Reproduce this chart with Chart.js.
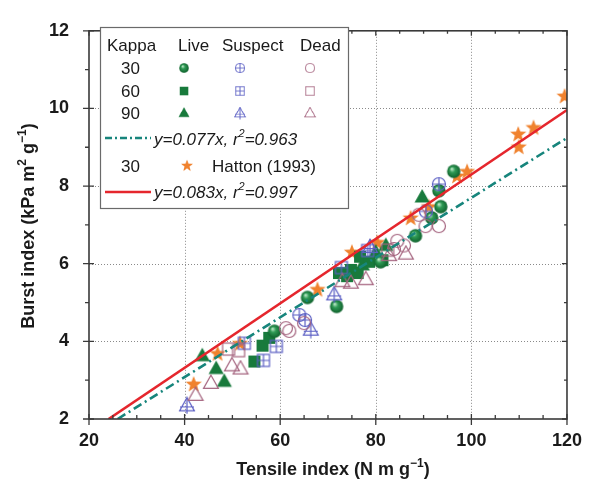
<!DOCTYPE html>
<html>
<head>
<meta charset="utf-8">
<script src="https://cdn.jsdelivr.net/npm/chart.js@4.4.1/dist/chart.umd.min.js"></script>
<style>
  html, body { margin: 0; padding: 0; background: #fff; }
  #wrap { width: 593px; height: 483px; position: relative; }
</style>
</head>
<body>
<div id="wrap"><canvas id="chart" width="593" height="483"></canvas></div>
<script>
// ---- data ----
const xTicks = [20, 40, 60, 80, 100, 120];
const yTicks = [2, 4, 6, 8, 10, 12];

const live30X = [58.8, 65.7, 71.8, 81.0, 88.3, 91.7, 93.6, 93.2, 96.3];
const live30Y = [4.26, 5.13, 4.90, 6.05, 6.72, 7.18, 7.47, 7.88, 8.38];
const live60X = [54.6, 56.3, 57.7, 72.3, 74.0, 74.8, 76.2, 76.7, 78.6, 81.4];
const live60Y = [3.48, 3.89, 4.09, 5.76, 5.68, 5.84, 5.76, 6.18, 6.05, 6.09];
const live90X = [43.7, 46.6, 48.3, 77.2, 80.0, 82.1, 89.7];
const live90Y = [3.63, 3.30, 2.97, 5.97, 6.30, 6.47, 7.72];

const sus30X = [64.0, 65.2, 90.5, 93.2];
const sus30Y = [4.68, 4.55, 7.35, 8.05];
const sus60X = [52.5, 56.5, 59.2, 72.8, 78.3];
const sus60Y = [3.95, 3.51, 3.87, 5.90, 6.34];
const sus90X = [40.5, 66.4, 71.3, 78.8];
const sus90Y = [2.35, 4.30, 5.21, 6.43];

const dead30X = [61.2, 61.9, 65.0, 83.8, 84.5, 85.9, 89.0, 90.4, 93.2];
const dead30Y = [4.34, 4.27, 4.47, 6.38, 6.59, 6.47, 7.26, 6.97, 6.97];
const dead60X = [49.2, 51.3, 82.5];
const dead60Y = [3.80, 3.76, 6.35];
const dead90X = [42.3, 45.5, 49.9, 51.7, 73.0, 74.8, 77.9, 82.8, 86.3];
const dead90Y = [2.62, 2.93, 3.38, 3.30, 5.55, 5.51, 5.60, 6.22, 6.26];

const hattonX = [41.9, 46.9, 51.6, 67.8, 75.0, 80.3, 87.3, 91.1, 97.0, 99.1, 109.8, 109.9, 113.0, 119.5];
const hattonY = [2.90, 3.69, 3.95, 5.34, 6.30, 6.55, 7.18, 7.47, 8.26, 8.38, 9.34, 9.01, 9.51, 10.32];

// regression lines (end points)
const fitOursX = [26.0, 120];
const fitOursY = [2.00, 9.24];
const fitAllX = [24.1, 120];
const fitAllY = [2.00, 9.96];

const GREEN = "#187a3c";
const BLUE = "#5b5fc4";
const MAUVE = "#a5647f";
const ORANGE = "#f0822e";
const RED = "#e5262d";
const TEAL = "#17857c";

/* ============================================================
 * marker images
 * ============================================================ */

function makeMarker(kind) {
  const s = 18;
  const c = document.createElement("canvas");
  c.width = s; c.height = s;
  const g = c.getContext("2d");
  const m = s / 2;
  g.lineWidth = 1.2;

  const tri = (r) => {
    g.beginPath();
    g.moveTo(m, m - r);
    g.lineTo(m + r * 0.95, m + r * 0.7);
    g.lineTo(m - r * 0.95, m + r * 0.7);
    g.closePath();
  };

  if (kind === "sphere") {
    const grad = g.createRadialGradient(m - 2, m - 2.5, 0.5, m, m, 7);
    grad.addColorStop(0, "#b8e6c4");
    grad.addColorStop(0.35, "#2f9a55");
    grad.addColorStop(1, "#0d5e2a");
    g.fillStyle = grad;
    g.beginPath(); g.arc(m, m, 6.7, 0, Math.PI * 2); g.fill();
  } else if (kind === "fsquare") {
    g.fillStyle = GREEN;
    g.fillRect(m - 6, m - 6, 12, 12);
  } else if (kind === "ftri") {
    g.fillStyle = GREEN; tri(8); g.fill();
  } else if (kind === "ocircle" || kind === "pcircle") {
    g.strokeStyle = kind === "ocircle" ? MAUVE : BLUE;
    g.beginPath(); g.arc(m, m, 6.5, 0, Math.PI * 2); g.stroke();
    if (kind === "pcircle") {
      g.beginPath();
      g.moveTo(m - 6.5, m); g.lineTo(m + 6.5, m);
      g.moveTo(m, m - 6.5); g.lineTo(m, m + 6.5);
      g.stroke();
    }
  } else if (kind === "osquare" || kind === "psquare") {
    g.strokeStyle = kind === "osquare" ? MAUVE : BLUE;
    g.strokeRect(m - 6, m - 6, 12, 12);
    if (kind === "psquare") {
      g.beginPath();
      g.moveTo(m - 6, m); g.lineTo(m + 6, m);
      g.moveTo(m, m - 6); g.lineTo(m, m + 6);
      g.stroke();
    }
  } else if (kind === "otri" || kind === "ptri") {
    g.strokeStyle = kind === "otri" ? MAUVE : BLUE;
    tri(7.8); g.stroke();
    if (kind === "ptri") {
      g.beginPath();
      g.moveTo(m, m - 7.8); g.lineTo(m, m + 8.5);
      g.moveTo(m - 7, m + 1.5); g.lineTo(m + 7, m + 1.5);
      g.stroke();
    }
  } else if (kind === "star") {
    g.fillStyle = ORANGE;
    g.beginPath();
    for (let i = 0; i < 10; i++) {
      const r = i % 2 === 0 ? 8.5 : 3.6;
      const a = -Math.PI / 2 + i * Math.PI / 5;
      const px = m + r * Math.cos(a), py = m + 0.5 + r * Math.sin(a);
      if (i === 0) g.moveTo(px, py); else g.lineTo(px, py);
    }
    g.closePath(); g.fill();
  }
  return c;
}

const MK = {};
["sphere", "fsquare", "ftri", "ocircle", "osquare", "otri", "pcircle", "psquare", "ptri", "star"]
  .forEach((k) => (MK[k] = makeMarker(k)));

const pts = (xs, ys) => xs.map((x, i) => ({ x, y: ys[i] }));

function scatterSet(xs, ys, kind) {
  return {
    type: "scatter",
    data: pts(xs, ys),
    pointStyle: MK[kind],
    pointRadius: 8,
    order: 2,
  };
}

/* ============================================================
 * helpers for text with superscripts
 * ============================================================ */

function runsWidth(ctx, runs, font, supFont) {
  let w = 0;
  runs.forEach((r) => {
    ctx.font = r.sup ? supFont : font;
    w += ctx.measureText(r.t).width;
  });
  return w;
}

function drawRuns(ctx, runs, x, y, font, supFont, supRise) {
  let cx = x;
  ctx.textAlign = "left";
  ctx.textBaseline = "alphabetic";
  runs.forEach((r) => {
    ctx.font = r.sup ? supFont : font;
    ctx.fillText(r.t, cx, r.sup ? y - supRise : y);
    cx += ctx.measureText(r.t).width;
  });
}

/* ============================================================
 * frame, grid, ticks, titles, legend
 * ============================================================ */

const framePlugin = {
  id: "frame",
  beforeDatasetsDraw(chart) {
    const { ctx, chartArea: a, scales } = chart;
    ctx.save();
    ctx.strokeStyle = "#8a8a8a";
    ctx.lineWidth = 1;
    ctx.setLineDash([1, 2]);
    xTicks.slice(1, -1).forEach((v) => {
      const px = Math.round(scales.x.getPixelForValue(v)) + 0.5;
      ctx.beginPath(); ctx.moveTo(px, a.top); ctx.lineTo(px, a.bottom); ctx.stroke();
    });
    yTicks.slice(1, -1).forEach((v) => {
      const py = Math.round(scales.y.getPixelForValue(v)) + 0.5;
      ctx.beginPath(); ctx.moveTo(a.left, py); ctx.lineTo(a.right, py); ctx.stroke();
    });
    ctx.restore();
  },
  afterDatasetsDraw(chart) {
    const { ctx, chartArea: a, scales } = chart;
    ctx.save();
    ctx.strokeStyle = "#3a3a3a";
    ctx.lineWidth = 1.6;
    ctx.strokeRect(a.left, a.top, a.right - a.left, a.bottom - a.top);

    ctx.lineWidth = 1.3;
    ctx.beginPath();
    for (let v = 20; v <= 120; v += 5) {
      const px = scales.x.getPixelForValue(v);
      const major = v % 20 === 0;
      if (major) {
        ctx.moveTo(px, a.bottom + 6); ctx.lineTo(px, a.bottom - 5);
        ctx.moveTo(px, a.top); ctx.lineTo(px, a.top + 5);
      } else {
        ctx.moveTo(px, a.bottom); ctx.lineTo(px, a.bottom - 4);
        ctx.moveTo(px, a.top); ctx.lineTo(px, a.top + 3);
      }
    }
    for (let v = 2; v <= 12; v += 1) {
      const py = scales.y.getPixelForValue(v);
      const major = v % 2 === 0;
      if (major) {
        ctx.moveTo(a.left - 6, py); ctx.lineTo(a.left + 5, py);
        ctx.moveTo(a.right, py); ctx.lineTo(a.right - 5, py);
      } else {
        ctx.moveTo(a.left - 4, py); ctx.lineTo(a.left, py);
        ctx.moveTo(a.right, py); ctx.lineTo(a.right - 3, py);
      }
    }
    ctx.stroke();
    ctx.restore();

    drawLegend(ctx);
  },
  afterDraw(chart) {
    const { ctx } = chart;
    const font = "bold 18px Arial, 'Liberation Sans', sans-serif";
    const supFont = "bold 12px Arial, 'Liberation Sans', sans-serif";
    ctx.save();
    ctx.fillStyle = "#1a1a1a";

    // x title
    const xr = [{ t: "Tensile index (N m g" }, { t: "\u22121", sup: true }, { t: ")" }];
    const xw = runsWidth(ctx, xr, font, supFont);
    drawRuns(ctx, xr, 333 - xw / 2, 475, font, supFont, 8);

    // y title (rotated)
    const yr = [
      { t: "Burst index (kPa m" }, { t: "2", sup: true }, { t: " g" },
      { t: "\u22121", sup: true }, { t: ")" },
    ];
    const yw = runsWidth(ctx, yr, font, supFont);
    ctx.translate(34, 226);
    ctx.rotate(-Math.PI / 2);
    drawRuns(ctx, yr, -yw / 2, 0, font, supFont, 8);
    ctx.restore();
  },
};

function drawLegend(ctx) {
  const x0 = 100, y0 = 27, x1 = 348, y1 = 208;
  ctx.save();
  ctx.fillStyle = "#fff";
  ctx.fillRect(x0, y0, x1 - x0, y1 - y0);
  ctx.strokeStyle = "#6a6a6a";
  ctx.lineWidth = 1.2;
  ctx.strokeRect(x0 + 0.5, y0 + 0.5, x1 - x0, y1 - y0);

  const font = "17px Arial, 'Liberation Sans', sans-serif";
  const ifont = "italic 17px Arial, 'Liberation Sans', sans-serif";
  const isup = "italic 11px Arial, 'Liberation Sans', sans-serif";
  ctx.fillStyle = "#1a1a1a";
  ctx.font = font;
  ctx.textBaseline = "alphabetic";
  ctx.textAlign = "left";
  ctx.fillText("Kappa", 107, 51);
  ctx.fillText("Live", 178, 51);
  ctx.fillText("Suspect", 222, 51);
  ctx.fillText("Dead", 300, 51);

  const rows = [
    { k: "30", y: 74, m: ["sphere", "pcircle", "ocircle"] },
    { k: "60", y: 97, m: ["fsquare", "psquare", "osquare"] },
    { k: "90", y: 119, m: ["ftri", "ptri", "otri"] },
  ];
  const cols = [184, 240, 310];
  const sz = 13;
  rows.forEach((r) => {
    ctx.font = font;
    ctx.fillText(r.k, 121, r.y);
    r.m.forEach((k, i) => {
      ctx.drawImage(MK[k], cols[i] - sz / 2, r.y - 6 - sz / 2, sz, sz);
    });
  });

  // teal fit
  ctx.strokeStyle = TEAL;
  ctx.lineWidth = 2.4;
  ctx.setLineDash([7, 3, 2, 3]);
  ctx.beginPath(); ctx.moveTo(105, 138); ctx.lineTo(151, 138); ctx.stroke();
  ctx.setLineDash([]);
  drawRuns(ctx, [{ t: "y=0.077x, r" }, { t: "2", sup: true }, { t: "=0.963" }], 154, 145, ifont, isup, 8);

  // Hatton
  ctx.font = font;
  ctx.fillText("30", 121, 172);
  ctx.drawImage(MK.star, 187 - 6.5, 166 - 7, 13, 13);
  ctx.fillText("Hatton (1993)", 212, 172);

  // red fit
  ctx.strokeStyle = RED;
  ctx.lineWidth = 2.4;
  ctx.beginPath(); ctx.moveTo(105, 192); ctx.lineTo(151, 192); ctx.stroke();
  drawRuns(ctx, [{ t: "y=0.083x, r" }, { t: "2", sup: true }, { t: "=0.997" }], 154, 198, ifont, isup, 8);
  ctx.restore();
}

/* ============================================================
 * chart
 * ============================================================ */

const tickFont = { family: "Arial, 'Liberation Sans', sans-serif", size: 18, weight: "bold" };

new Chart(document.getElementById("chart"), {
  type: "scatter",
  data: {
    datasets: [
      scatterSet(dead30X, dead30Y, "ocircle"),
      scatterSet(dead60X, dead60Y, "osquare"),
      scatterSet(dead90X, dead90Y, "otri"),
      scatterSet(sus30X, sus30Y, "pcircle"),
      scatterSet(sus60X, sus60Y, "psquare"),
      scatterSet(sus90X, sus90Y, "ptri"),
      scatterSet(live30X, live30Y, "sphere"),
      scatterSet(live60X, live60Y, "fsquare"),
      scatterSet(live90X, live90Y, "ftri"),
      scatterSet(hattonX, hattonY, "star"),
      {
        type: "line",
        data: pts(fitOursX, fitOursY),
        borderColor: TEAL,
        borderWidth: 2.6,
        borderDash: [9, 4, 2, 4],
        pointRadius: 0,
        fill: false,
        order: 1,
      },
      {
        type: "line",
        data: pts(fitAllX, fitAllY),
        borderColor: RED,
        borderWidth: 2.6,
        pointRadius: 0,
        fill: false,
        order: 0,
      },
    ],
  },
  options: {
    responsive: false,
    animation: false,
    layout: { padding: { top: 18, right: 25, left: 0, bottom: 0 } },
    plugins: { legend: { display: false }, tooltip: { enabled: false } },
    scales: {
      x: {
        type: "linear",
        min: 20,
        max: 120,
        afterBuildTicks: (s) => { s.ticks = xTicks.map((v) => ({ value: v })); },
        afterFit: (s) => { s.height = 64; },
        grid: { display: false, drawTicks: false },
        border: { display: false },
        ticks: { color: "#1a1a1a", font: tickFont, padding: 11, maxRotation: 0 },
      },
      y: {
        type: "linear",
        min: 2,
        max: 12,
        afterBuildTicks: (s) => { s.ticks = yTicks.map((v) => ({ value: v })); },
        afterFit: (s) => { s.width = 89; },
        grid: { display: false, drawTicks: false },
        border: { display: false },
        ticks: { color: "#1a1a1a", font: tickFont, padding: 20 },
      },
    },
  },
  plugins: [framePlugin],
});
</script>
</body>
</html>
